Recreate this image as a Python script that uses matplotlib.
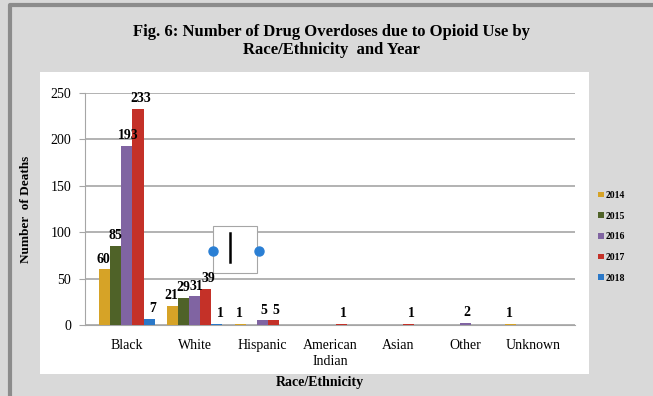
import matplotlib.pyplot as plt
import numpy as np
from matplotlib.patches import Rectangle
from matplotlib.lines import Line2D

categories = ["Black", "White", "Hispanic", "American\nIndian", "Asian", "Other", "Unknown"]
years = ["2014", "2015", "2016", "2017", "2018"]
deaths_2014 = [60, 21, 1, 0, 0, 0, 1]
deaths_2015 = [85, 29, 0, 0, 0, 0, 0]
deaths_2016 = [193, 31, 5, 0, 0, 2, 0]
deaths_2017 = [233, 39, 5, 1, 1, 0, 0]
deaths_2018 = [7, 1, 0, 0, 0, 0, 0]
series = [deaths_2014, deaths_2015, deaths_2016, deaths_2017, deaths_2018]
colors = ["#d6a327", "#4f6228", "#8064a2", "#c43128", "#2a78c8"]

plt.rcParams['font.family'] = ['Liberation Serif', 'DejaVu Serif']

W, H = 653, 396
fig = plt.figure(figsize=(W / 100, H / 100), dpi=100)
fig.patch.set_facecolor("#d9d9d9")
# dark frame on the top and left edge, white chart area
fig.lines.append(Line2D([10 / W, 10 / W, 1], [0, 1 - 5 / H, 1 - 5 / H],
                        transform=fig.transFigure, color="#8c8c8c", linewidth=3))
fig.patches.append(Rectangle((40 / W, 1 - 374 / H), 549 / W, 302 / H,
                             transform=fig.transFigure, facecolor="white",
                             edgecolor="none", zorder=-1))

ax = fig.add_axes([85 / W, 1 - 325 / H, 490 / W, 232 / H])
ax.set_facecolor("none")

x = np.arange(len(categories))
w = 0.163
for i, vals in enumerate(series):
    pos = x + (i - 2) * w
    ax.bar(pos, vals, width=w, color=colors[i], label=years[i], zorder=3,
           edgecolor="none")
    for p, v in zip(pos, vals):
        if v > 0:
            ax.text(p + 0.02 * (i - 1), v + 4, str(v), ha="center", va="bottom",
                    fontsize=10, fontweight="bold", zorder=4)

ax.set_ylim(0, 250)
ax.set_xlim(-0.62, 6.62)
ax.set_yticks(range(0, 251, 50))
ax.yaxis.grid(True, color="#a6a6a6", linewidth=1.2, zorder=0)
ax.set_axisbelow(True)
ax.set_xticks(x)
ax.set_xticklabels(categories, fontsize=10, linespacing=1.3)
ax.tick_params(axis="x", length=0, pad=10)
ax.tick_params(axis="y", labelsize=10, length=4, color="#a6a6a6", pad=6)
for s in ["top", "right"]:
    ax.spines[s].set_visible(False)
ax.spines["left"].set_color("#a6a6a6")
ax.spines["bottom"].set_color("#a6a6a6")

# selected text box artifact on the chart
ax.add_patch(Rectangle((1.27, 56), 0.65, 51, facecolor="white",
                       edgecolor="#a6a6a6", linewidth=0.8, zorder=2))
ax.plot([1.52, 1.52], [68, 99], color="black", linewidth=1.8, zorder=5)
ax.plot([1.27, 1.95], [80, 80], linestyle="none", marker="o", markersize=6.5,
        color="#2a7fd4", zorder=5)

ax.set_ylabel("Number  of Deaths", fontsize=9.5, fontweight="bold", labelpad=13)
ax.set_xlabel("Race/Ethnicity", fontsize=10, fontweight="bold")
ax.xaxis.set_label_coords(0.48, -0.22)

fig.suptitle("Fig. 6: Number of Drug Overdoses due to Opioid Use by\nRace/Ethnicity  and Year",
             fontsize=12, fontweight="bold", x=0.507, y=0.94, linespacing=1.2)

ax.legend(loc="center left", bbox_to_anchor=(1.04, 0.38), frameon=False,
          handlelength=0.55, handleheight=0.55, handletextpad=0.15,
          labelspacing=1.2, borderaxespad=0,
          prop={"weight": "bold", "size": 7})

fig.savefig("out.png", dpi=100, facecolor=fig.get_facecolor())
